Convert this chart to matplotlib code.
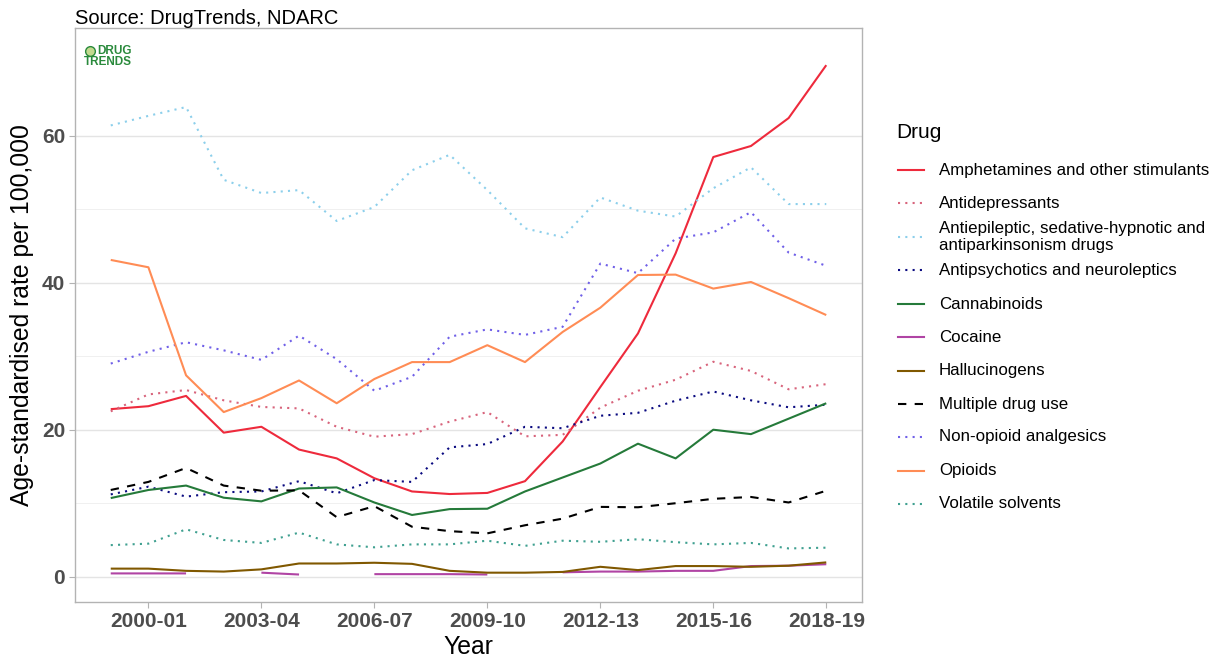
import numpy as np
import matplotlib
matplotlib.use("Agg")
import matplotlib.pyplot as plt
from matplotlib.lines import Line2D

plt.rcParams["font.family"] = ["Liberation Sans", "DejaVu Sans"]

years = [f"{y}-{str(y + 1)[-2:]}" for y in range(1999, 2019)]

amphetamines = [22.8, 23.2, 24.6, 19.6, 20.4, 17.3, 16.1, 13.4, 11.6, 11.25,
                11.4, 13.0, 18.4, 25.8, 33.1, 44.0, 57.1, 58.6, 62.4, 69.6]
antidepressants = [22.5, 24.8, 25.4, 24.0, 23.1, 22.9, 20.4, 19.05, 19.4, 21.1,
                   22.4, 19.1, 19.3, 23.0, 25.3, 26.8, 29.25, 28.0, 25.5, 26.2]
antiepileptic = [61.4, 62.7, 63.9, 54.0, 52.2, 52.6, 48.4, 50.3, 55.3, 57.4,
                 52.6, 47.4, 46.2, 51.6, 49.8, 49.0, 52.85, 55.7, 50.7, 50.7]
antipsychotics = [11.2, 12.25, 10.9, 11.5, 11.6, 13.0, 11.35, 13.15, 12.9, 17.6,
                  18.05, 20.4, 20.2, 21.9, 22.3, 23.95, 25.2, 24.0, 23.05, 23.4]
cannabinoids = [10.7, 11.8, 12.4, 10.75, 10.25, 12.0, 12.15, 10.1, 8.4, 9.2,
                9.25, 11.6, 13.5, 15.4, 18.1, 16.1, 20.0, 19.4, 21.5, 23.6]
cocaine = [0.45, 0.45, 0.45, np.nan, 0.55, 0.3, np.nan, 0.35, 0.35, 0.35,
           0.3, np.nan, 0.6, 0.7, 0.7, 0.8, 0.8, 1.45, 1.5, 1.7]
hallucinogens = [1.1, 1.1, 0.8, 0.7, 1.0, 1.8, 1.8, 1.9, 1.75, 0.8,
                 0.55, 0.55, 0.65, 1.35, 0.9, 1.45, 1.45, 1.35, 1.5, 1.95]
multiple = [11.8, 12.9, 14.8, 12.4, 11.7, 11.75, 8.1, 9.6, 6.8, 6.2,
            5.9, 7.0, 7.9, 9.5, 9.45, 10.0, 10.6, 10.85, 10.1, 11.7]
non_opioid = [29.0, 30.6, 31.9, 30.8, 29.5, 32.8, 29.6, 25.3, 27.2, 32.65,
              33.65, 32.9, 34.0, 42.6, 41.3, 46.0, 46.85, 49.6, 44.1, 42.3]
opioids = [43.1, 42.1, 27.4, 22.4, 24.3, 26.7, 23.6, 26.9, 29.2, 29.2,
           31.5, 29.2, 33.3, 36.6, 41.05, 41.1, 39.2, 40.1, 37.9, 35.6]
volatile = [4.3, 4.5, 6.45, 5.0, 4.6, 6.0, 4.4, 4.0, 4.4, 4.4,
            4.9, 4.2, 4.9, 4.75, 5.1, 4.7, 4.4, 4.6, 3.85, 3.95]

labels = ["Amphetamines and other stimulants", "Antidepressants",
          "Antiepileptic, sedative-hypnotic and\nantiparkinsonism drugs",
          "Antipsychotics and neuroleptics", "Cannabinoids", "Cocaine",
          "Hallucinogens", "Multiple drug use", "Non-opioid analgesics",
          "Opioids", "Volatile solvents"]
series = [amphetamines, antidepressants, antiepileptic, antipsychotics,
          cannabinoids, cocaine, hallucinogens, multiple, non_opioid,
          opioids, volatile]
colors = ["#EE2A3C", "#D8647C", "#8CCFEB", "#0A0A80", "#257A3A", "#B044A4",
          "#805800", "#000000", "#7060E8", "#FF8C55", "#3FA090"]
DOT = (0, (1, 2.5))
DASH = (0, (4, 4))
styles = ["-", DOT, DOT, DOT, "-", "-", "-", DASH, DOT, "-", DOT]

fig = plt.figure(figsize=(12.15, 6.58), dpi=100)
ax = fig.add_axes([0.0617, 0.0851, 0.6478, 0.8723])

x = np.arange(len(years))
for vals, col, ls in zip(series, colors, styles):
    ax.plot(x, vals, color=col, ls=ls, lw=1.5, solid_capstyle="butt",
            dash_capstyle="butt")

ax.set_xlim(-0.95, 19.95)
ax.set_ylim(-3.44, 74.65)
ax.set_xticks(x[1::3])
ax.set_xticklabels(years[1::3])
ax.set_yticks([0, 20, 40, 60])
ax.set_yticks([10, 30, 50], minor=True)
ax.grid(axis="y", which="major", color="#e4e4e4", lw=1.0)
ax.grid(axis="y", which="minor", color="#f0f0f0", lw=0.7)
ax.set_axisbelow(True)
for s in ax.spines.values():
    s.set_color("#b3b3b3")
    s.set_linewidth(1.0)
ax.tick_params(axis="both", which="major", length=4, color="#b3b3b3",
               labelsize=15, labelcolor="#4d4d4d", pad=3)
ax.tick_params(axis="y", which="minor", length=0)
for t in ax.get_xticklabels() + ax.get_yticklabels():
    t.set_fontweight("bold")
ax.set_xlabel("Year", fontsize=17.8, labelpad=3)
ax.set_ylabel("Age-standardised rate per 100,000", fontsize=17.8, labelpad=6)

fig.text(75 / 1215, 1 - 18 / 658, "Source: DrugTrends, NDARC", fontsize=14.5,
         va="center", ha="left")

# logo
fig.text(97 / 1215, 1 - 51 / 658, "DRUG", fontsize=8.5, fontweight="bold",
         color="#2a8a3c", va="center", ha="left")
fig.text(84 / 1215, 1 - 62 / 658, "TRENDS", fontsize=8.5, fontweight="bold",
         color="#2a8a3c", va="center", ha="left")
fig.add_artist(Line2D([89.5 / 1215], [1 - 51 / 658], marker="o", ms=7,
                      color="#c2d98e", mec="#2a8a3c", mew=1.0,
                      transform=fig.transFigure))

# legend
fig.text(896 / 1215, 1 - 132 / 658, "Drug", fontsize=15, va="center", ha="left")
row_y = [170, 203, 237, 270, 304, 337, 371, 404, 437, 471, 504]
for lab, col, ls, yy in zip(labels, colors, styles, row_y):
    yf = 1 - yy / 658
    fig.add_artist(Line2D([898 / 1215, 924 / 1215], [yf, yf], color=col, ls=ls,
                          lw=1.5, transform=fig.transFigure))
    fig.text(939 / 1215, yf, lab, fontsize=12.2, va="center", ha="left",
             linespacing=1.15)

fig.savefig("out.png", dpi=100)
